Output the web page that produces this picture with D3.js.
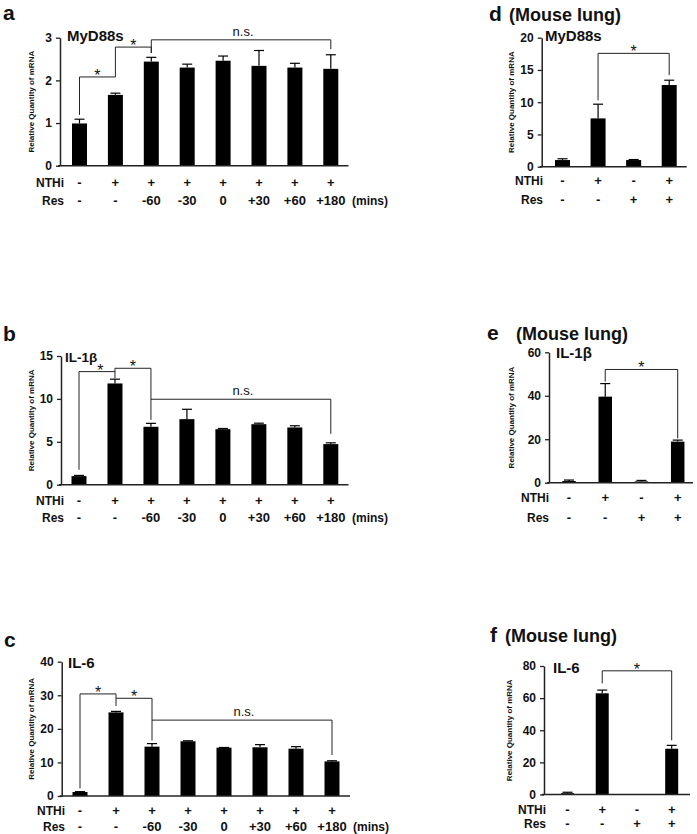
<!DOCTYPE html>
<html><head><meta charset="utf-8">
<script src="https://cdn.jsdelivr.net/npm/d3@7"></script>
<style>body{margin:0;background:#fff}svg{display:block;font-family:"Liberation Sans",Arial,sans-serif}</style>
</head><body><svg id="chart" width="697" height="834"></svg>
<script>
// ---------- data ----------
const timeNTHi = ["-","+","+","+","+","+","+","+"];
const timeRes  = ["-","-","-60","-30","0","+30","+60","+180"];
const lungNTHi = ["-","+","-","+"];
const lungRes  = ["-","-","+","+"];

const myd88Time    = [0.99,1.66,2.44,2.30,2.46,2.34,2.30,2.27];
const myd88TimeErr = [0.10,0.04,0.10,0.08,0.11,0.36,0.10,0.33];
const il1bTime     = [1.0,11.8,6.75,7.64,6.47,7.05,6.67,4.73];
const il1bTimeErr  = [0.08,0.5,0.4,1.15,0.08,0.12,0.2,0.15];
const il6Time      = [1.2,24.9,14.7,16.3,14.4,14.5,14.1,10.3];
const il6TimeErr   = [0.1,0.3,0.9,0.15,0.05,0.8,0.6,0.2];

const myd88Lung    = [1.03,7.49,1.03,12.66];
const myd88LungErr = [0.2,2.2,0.08,0.75];
const il1bLung     = [0.77,39.6,0.6,18.9];
const il1bLungErr  = [0.45,6.0,0.45,0.7];
const il6Lung      = [0.8,63,0,28.5];
const il6LungErr   = [0.6,2.0,0,2.1];

const myd88TimeBrackets = [
  {from:0,to:1,level:2.08,leftEnd:1.19,rightEnd:null,label:"*"},
  {from:1,to:2,level:2.78,leftEnd:2.08,rightEnd:2.64,label:"*"},
  {from:2,to:7,level:2.95,leftEnd:2.64,rightEnd:2.73,label:"n.s."}];
const il1bTimeBrackets = [
  {from:0,to:1,level:13.18,leftEnd:1.74,rightEnd:null,label:"*"},
  {from:1,to:2,level:13.57,leftEnd:12.4,rightEnd:7.56,label:"*"},
  {from:2,to:7,level:9.96,leftEnd:null,rightEnd:5.93,label:"n.s."}];
const il6TimeBrackets = [
  {from:0,to:1,level:30.4,leftEnd:2.3,rightEnd:29.1,label:"*"},
  {from:1,to:2,level:29.1,leftEnd:26.8,rightEnd:16.5,label:"*"},
  {from:2,to:7,level:22.6,leftEnd:null,rightEnd:12.2,label:"n.s."}];
const myd88LungBrackets = [{from:1,to:3,level:17.57,leftEnd:10.3,rightEnd:14.2,label:"*"}];
const il1bLungBrackets  = [{from:1,to:3,level:52.1,leftEnd:46.5,rightEnd:20.4,label:"*"}];
const il6LungBrackets   = [{from:1,to:3,level:77,leftEnd:69.2,rightEnd:33.7,label:"*"}];

const yTicksMyd88Time = [0,1,2,3];
const yTicksIl1bTime = [0,5,10,15];
const yTicksIl6Time = [0,10,20,30,40];
const yTicksMyd88Lung = [0,5,10,15,20];
const yTicksIl1bLung = [0,20,40,60];
const yTicksIl6Lung = [0,20,40,60,80];

const yTitle = "Relative Quantity of mRNA";

// ---------- drawing ----------
const svg = d3.select("#chart");

function drawPanel(o) {
  const g = svg.append("g");
  const y = d3.scaleLinear().domain([0, o.yMax]).range([o.yBottom, o.yTop]);
  const x = d3.scalePoint().domain(d3.range(o.values.length)).range(o.centers);

  // bars
  g.selectAll("rect.bar").data(o.values).join("rect")
    .attr("x", (d,i) => x(i) - o.barW/2).attr("width", o.barW)
    .attr("y", d => y(d)).attr("height", d => o.yBottom - y(d)).attr("fill", "#000");
  // error bars
  o.values.forEach((v,i) => {
    const e = o.errs[i];
    if (e <= 0) return;
    g.append("line").attr("x1", x(i)).attr("x2", x(i)).attr("y1", y(v)).attr("y2", y(v+e))
      .attr("stroke","#000").attr("stroke-width",1.2);
    g.append("line").attr("x1", x(i)-5).attr("x2", x(i)+5).attr("y1", y(v+e)).attr("y2", y(v+e))
      .attr("stroke","#000").attr("stroke-width",1.2);
  });

  // y axis
  const ax = g.append("g").attr("transform", `translate(${o.axisX},0)`)
    .call(d3.axisLeft(y).tickValues(o.ticks).tickSize(4).tickSizeOuter(0).tickPadding(4).tickFormat(d3.format("d")));
  ax.select(".domain").attr("stroke","#222").attr("stroke-width",1.5);
  ax.selectAll(".tick line").attr("stroke","#222").attr("stroke-width",1.3);
  ax.selectAll(".tick text").attr("font-size",12).attr("font-weight","bold").attr("fill","#111")
    .attr("font-family",'"Liberation Sans",Arial,sans-serif');
  // x axis line
  g.append("line").attr("x1", o.axisX - 2).attr("x2", o.xEnd).attr("y1", o.yBottom).attr("y2", o.yBottom)
    .attr("stroke","#222").attr("stroke-width",1.5);

  // y title
  g.append("text").attr("transform", `translate(${o.yTitleX},${(o.yBottom+o.yTop)/2}) rotate(-90)`)
    .attr("text-anchor","middle").attr("dominant-baseline","middle")
    .attr("font-size",8).attr("font-weight","bold").attr("fill","#111").text(yTitle);

  // brackets
  o.brackets.forEach((b, bi) => {
    const x1 = x(b.from), x2 = x(b.to), ly = y(b.level);
    const line = (a,bq,c,d) => g.append("line").attr("x1",a).attr("y1",bq).attr("x2",c).attr("y2",d)
      .attr("stroke","#222").attr("stroke-width",1);
    line(x1, ly, x2, ly);
    if (b.leftEnd != null) line(x1, ly, x1, y(b.leftEnd));
    if (b.rightEnd != null) line(x2, ly, x2, y(b.rightEnd));
    const dx = (o.labelShift && o.labelShift[bi]) || 0;
    if (b.label === "*") {
      g.append("text").attr("x",(x1+x2)/2 + dx).attr("y", ly + 4).attr("text-anchor","middle")
        .attr("font-size",16).attr("fill","#111").text("*");
    } else {
      g.append("text").attr("x",(x1+x2)/2 + 2 + dx).attr("y", ly - 4).attr("text-anchor","middle")
        .attr("font-size",13).attr("fill","#111").text(b.label);
    }
  });

  // condition rows
  [[o.nthi, o.rows[0], "NTHi"], [o.res, o.rows[1], "Res"]].forEach(([arr, ry, name]) => {
    g.append("text").attr("x", o.rowLabelX).attr("y", ry + 4.5).attr("text-anchor","end")
      .attr("font-size",12).attr("font-weight","bold").attr("fill","#111").text(name);
    g.selectAll(null).data(arr).join("text")
      .attr("x",(d,i) => x(i)).attr("y", ry + 4.5).attr("text-anchor","middle")
      .attr("font-size",13).attr("font-weight","bold").attr("fill","#111").text(d => d);
  });
  if (o.minsX) {
    g.append("text").attr("x", o.minsX).attr("y", o.rows[1] + 4.5)
      .attr("font-size",12).attr("font-weight","bold").attr("fill","#111").text("(mins)");
  }

  // title
  g.append("text").attr("x", o.titleX).attr("y", o.titleY)
    .attr("font-size",o.titleSize || 15).attr("font-weight","bold").attr("fill","#111").text(o.title);
  // panel label
  g.append("text").attr("x", o.labelX).attr("y", o.labelY)
    .attr("font-size",21).attr("font-weight","bold").attr("fill","#111").text(o.label);
  if (o.mouseX) {
    g.append("text").attr("x", o.mouseX).attr("y", o.labelY)
      .attr("font-size",18).attr("font-weight","bold").attr("fill","#111").text("(Mouse lung)");
  }
}

drawPanel({values:myd88Time, errs:myd88TimeErr, brackets:myd88TimeBrackets, nthi:timeNTHi, res:timeRes,
  ticks:yTicksMyd88Time, yMax:3, axisX:60, xEnd:348.5, yBottom:165.7, yTop:37.7, centers:[79.5,330.8], barW:15,
  rows:[182,200], rowLabelX:64, minsX:352, yTitleX:32, title:"MyD88s", titleX:67, titleY:41,
  label:"a", labelX:3, labelY:20});
drawPanel({values:il1bTime, errs:il1bTimeErr, brackets:il1bTimeBrackets, nthi:timeNTHi, res:timeRes,
  ticks:yTicksIl1bTime, yMax:15, axisX:61, xEnd:348.5, yBottom:484.7, yTop:356, centers:[79,330.8], barW:15,
  rows:[500,517], rowLabelX:64, minsX:352, yTitleX:32, title:"IL-1β", titleX:65, titleY:362, titleSize:13.5,
  labelShift:{0:3.5}, label:"b", labelX:3, labelY:341});
drawPanel({values:il6Time, errs:il6TimeErr, brackets:il6TimeBrackets, nthi:timeNTHi, res:timeRes,
  ticks:yTicksIl6Time, yMax:40, axisX:61.7, xEnd:350, yBottom:796, yTop:661.7, centers:[80,332], barW:15,
  rows:[810,826], rowLabelX:65, minsX:353, yTitleX:32, title:"IL-6", titleX:68, titleY:668.3,
  label:"c", labelX:4, labelY:646.7});
drawPanel({values:myd88Lung, errs:myd88LungErr, brackets:myd88LungBrackets, nthi:lungNTHi, res:lungRes,
  ticks:yTicksMyd88Lung, yMax:20, axisX:541.7, xEnd:686.7, yBottom:166.7, yTop:37.7, centers:[562.5,669.2], barW:15,
  rows:[180,199], rowLabelX:543, yTitleX:512, title:"MyD88s", titleX:545, titleY:40.7,
  label:"d", labelX:489, labelY:20.7, mouseX:509});
drawPanel({values:il1bLung, errs:il1bLungErr, brackets:il1bLungBrackets, nthi:lungNTHi, res:lungRes,
  ticks:yTicksIl1bLung, yMax:60, axisX:549, xEnd:693, yBottom:482.7, yTop:352.3, centers:[569,677.7], barW:13.5,
  rows:[497,517], rowLabelX:549, yTitleX:512, title:"IL-1β", titleX:556, titleY:358.3,
  label:"e", labelX:487, labelY:340, mouseX:516});
drawPanel({values:il6Lung, errs:il6LungErr, brackets:il6LungBrackets, nthi:lungNTHi, res:lungRes,
  ticks:yTicksIl6Lung, yMax:80, axisX:544, xEnd:690, yBottom:794.5, yTop:666, centers:[567.5,671.7], barW:13,
  rows:[809,823.5], rowLabelX:546, yTitleX:510, title:"IL-6", titleX:553, titleY:673.3,
  label:"f", labelX:490, labelY:641.7, mouseX:505});
</script>
</body></html>
